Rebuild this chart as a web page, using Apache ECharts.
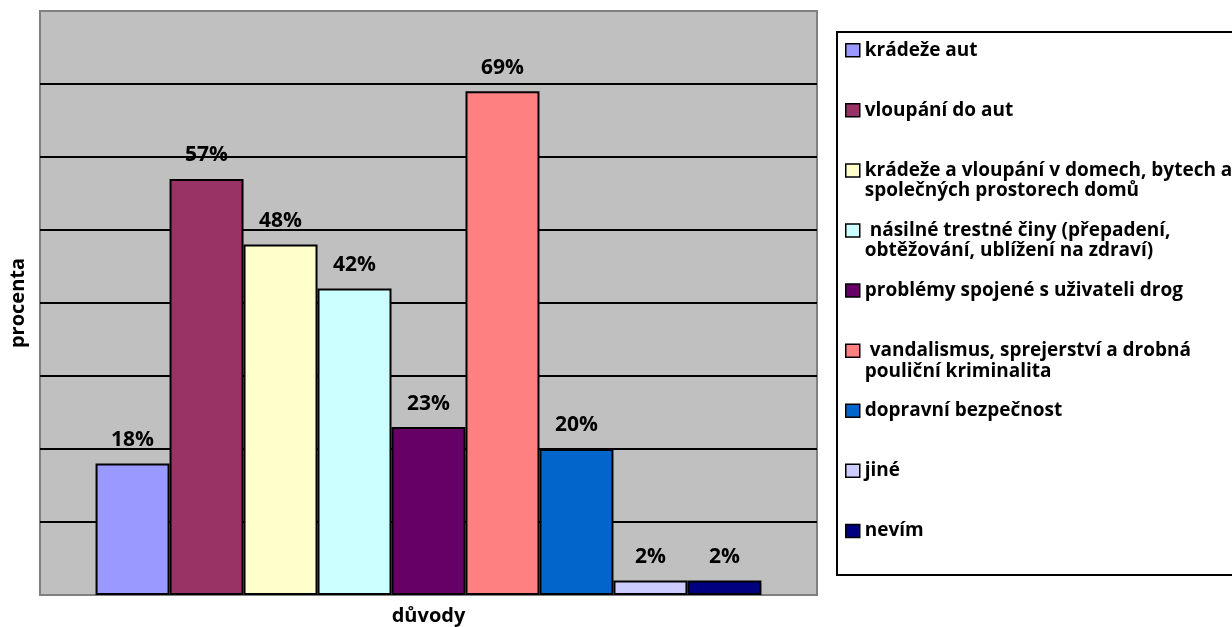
<!DOCTYPE html>
<html>
<head>
<meta charset="utf-8">
<script src="https://cdn.jsdelivr.net/npm/echarts@6/dist/echarts.min.js"></script>
<style>
  html, body { margin: 0; padding: 0; background: #fff; }
  #chart { width: 1232px; height: 627px; }
</style>
</head>
<body>
<div id="chart"></div>
<script>
// ---- data ----
const categories = [
  'krádeže aut',
  'vloupání do aut',
  'krádeže a vloupání v domech, bytech a společných prostorech domů',
  ' násilné trestné činy (přepadení, obtěžování, ublížení na zdraví)',
  'problémy spojené s uživateli drog',
  ' vandalismus, sprejerství a drobná pouliční kriminalita',
  'dopravní bezpečnost',
  'jiné',
  'nevím'
];
const legendLines = [
  ['krádeže aut'],
  ['vloupání do aut'],
  ['krádeže a vloupání v domech, bytech a', 'společných prostorech domů'],
  [' násilné trestné činy (přepadení,', 'obtěžování, ublížení na zdraví)'],
  ['problémy spojené s uživateli drog'],
  [' vandalismus, sprejerství a drobná', 'pouliční kriminalita'],
  ['dopravní bezpečnost'],
  ['jiné'],
  ['nevím']
];
const values = [18, 57, 48, 42, 23, 69, 20, 2, 2];
const colors = ['#9999FF', '#993366', '#FFFFCC', '#CCFFFF', '#660066', '#FF8080', '#0066CC', '#CCCCFF', '#000080'];
const xAxisTitle = 'důvody';
const yAxisTitle = 'procenta';
const yMin = 0, yMax = 80, yInterval = 10;

// ---- chart ----
const FONT = '"Open Sans", "Noto Sans", sans-serif';
const chart = echarts.init(document.getElementById('chart'), null, { renderer: 'canvas' });

const series = categories.map((name, i) => ({
  name: name,
  type: 'bar',
  data: [values[i]],
  barGap: '0%',
  barCategoryGap: '14.3%',
  itemStyle: { color: colors[i], borderColor: '#000', borderWidth: 2 },
  label: {
    show: true,
    position: 'top',
    distance: 13,
    formatter: '{c}%',
    color: '#000',
    fontFamily: FONT,
    fontWeight: 'bold',
    fontSize: 21
  },
  emphasis: { disabled: true }
}));

const LINE_H = 20.54;
const legendFormatter = function (name) {
  const lines = legendLines[categories.indexOf(name)];
  if (lines.length === 1) return '{m| }\n{m|' + lines[0] + '}\n{m| }';
  return '{m| }\n{m|' + lines[0] + '}\n{m|' + lines[1] + '}';
};

chart.setOption({
  backgroundColor: '#ffffff',
  animation: false,
  color: colors,
  grid: {
    left: 40, top: 11, right: 415, bottom: 32,
    outerBoundsMode: 'none',
    containLabel: false,
    show: true,
    backgroundColor: '#C0C0C0',
    borderColor: '#808080',
    borderWidth: 2
  },
  xAxis: {
    type: 'category',
    data: [''],
    axisLine: { show: false },
    axisTick: { show: false },
    axisLabel: { show: false },
    name: xAxisTitle,
    nameLocation: 'middle',
    nameGap: 11,
    nameTextStyle: { fontFamily: FONT, fontWeight: 'bold', fontSize: 20, color: '#000' }
  },
  yAxis: {
    type: 'value',
    min: yMin, max: yMax, interval: yInterval,
    axisLine: { show: false },
    axisTick: { show: false },
    axisLabel: { show: false },
    splitLine: { show: true, showMinLine: false, showMaxLine: false, lineStyle: { color: '#000', width: 2 } },
    name: yAxisTitle,
    nameLocation: 'middle',
    nameRotate: 90,
    nameGap: 12,
    nameTextStyle: { fontFamily: FONT, fontWeight: 'bold', fontSize: 20, color: '#000' }
  },
  legend: {
    orient: 'vertical',
    left: 845,
    top: 20.2,
    padding: 0,
    itemGap: 0,
    itemWidth: 14,
    itemHeight: 13,
    icon: 'rect',
    selectedMode: false,
    itemStyle: { borderColor: '#000', borderWidth: 1.5 },
    formatter: legendFormatter,
    textStyle: {
      fontFamily: FONT, fontWeight: 'bold', fontSize: 19, color: '#000',
      rich: {
        m: { fontFamily: FONT, fontWeight: 'bold', fontSize: 19, color: '#000', lineHeight: LINE_H }
      }
    },
    data: categories
  },
  graphic: [{
    type: 'rect',
    z: -1,
    shape: { x: 837, y: 32, width: 420, height: 543 },
    style: { fill: '#fff', stroke: '#000', lineWidth: 2 }
  }],
  series: series
});
</script>
</body>
</html>
